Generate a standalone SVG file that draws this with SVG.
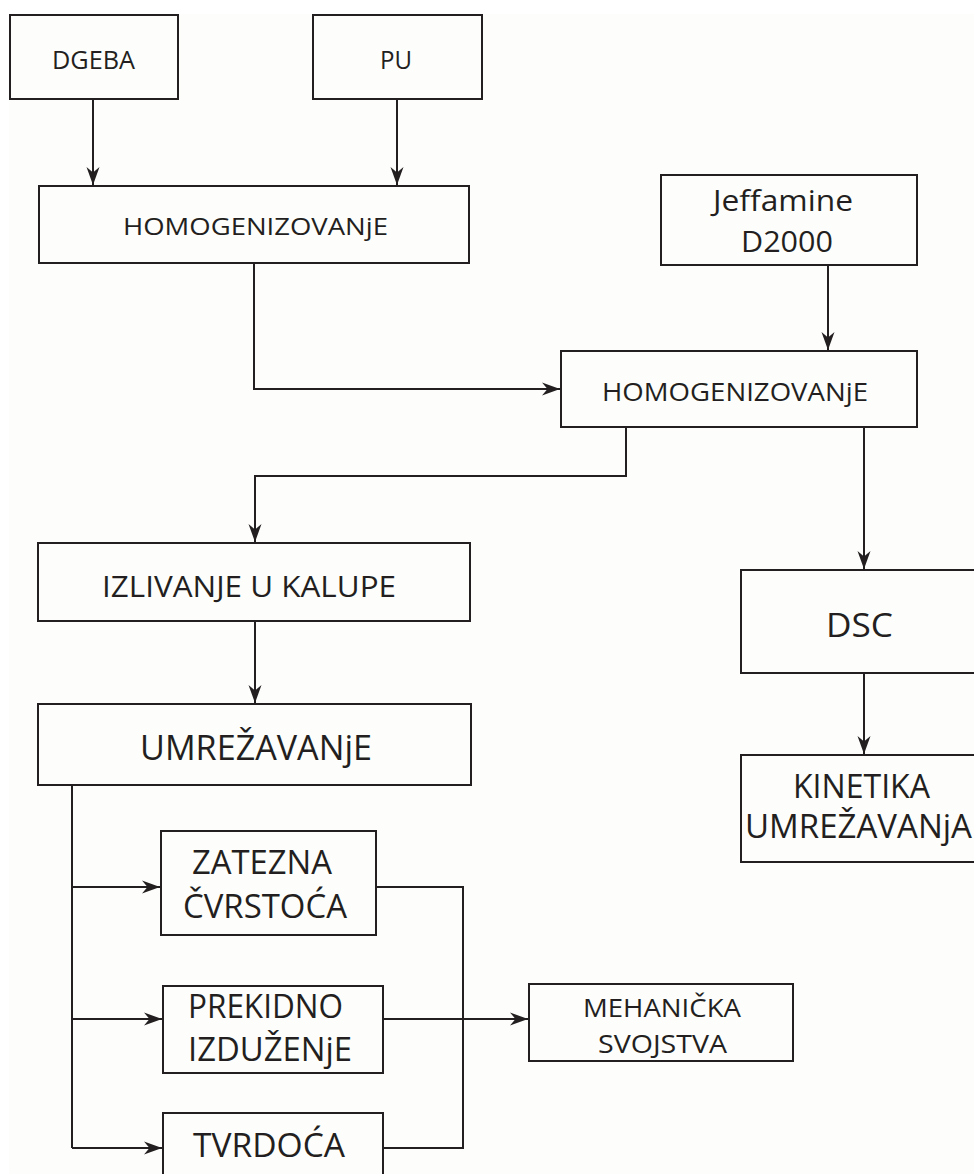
<svg xmlns="http://www.w3.org/2000/svg" width="974" height="1174" viewBox="0 0 974 1174">
<defs>
<style>
.box{fill:none;stroke:#231f20;stroke-width:2}
.ln{fill:none;stroke:#231f20;stroke-width:2}
.arr{marker-end:url(#ah)}
text{font-family:"Open Sans","Noto Sans","Liberation Sans",sans-serif;fill:#231f20}
</style>
<marker id="ah" markerUnits="userSpaceOnUse" viewBox="-18 -7 19 14" refX="0" refY="0" markerWidth="19" markerHeight="14" orient="auto">
<path d="M0,0 L-18,-6.5 L-12.5,0 L-18,6.5 Z" fill="#231f20"/>
</marker>
</defs>
<rect x="0" y="0" width="974" height="1174" fill="#fdfdfb"/>
<rect x="0" y="0" width="974" height="14" fill="#ffffff"/>
<rect x="0" y="0" width="9" height="1174" fill="#ffffff"/>

<g id="connectors">
<path class="ln arr" d="M93,99 V185"/>
<path class="ln arr" d="M397,99 V185"/>
<path class="ln arr" d="M254,263 V389 H560"/>
<path class="ln arr" d="M828,265 V350"/>
<path class="ln arr" d="M626,427 V476 H255 V542"/>
<path class="ln arr" d="M864,427 V569"/>
<path class="ln arr" d="M255,621 V703"/>
<path class="ln arr" d="M864,673 V754"/>
<path class="ln" d="M72,785 V1148"/>
<path class="ln arr" d="M72,887 H160"/>
<path class="ln arr" d="M72,1019 H162"/>
<path class="ln arr" d="M72,1148 H162"/>
<path class="ln" d="M376,887 H463 V1148 H383"/>
<path class="ln arr" d="M383,1019 H528"/>
</g>

<g id="dgeba"><rect class="box" x="10" y="15" width="168" height="84"/>
<text x="52" y="69" font-size="26" textLength="83" lengthAdjust="spacingAndGlyphs">DGEBA</text></g>
<g id="pu"><rect class="box" x="313" y="15" width="169" height="84"/>
<text x="380" y="69" font-size="26" textLength="32" lengthAdjust="spacingAndGlyphs">PU</text></g>
<g id="homog1"><rect class="box" x="39" y="186" width="430" height="77"/>
<text x="123" y="235" font-size="24" textLength="265" lengthAdjust="spacingAndGlyphs">HOMOGENIZOVANjE</text></g>
<g id="jeffamine"><rect class="box" x="661" y="175" width="256" height="90"/>
<text x="713" y="211" font-size="30" textLength="140" lengthAdjust="spacingAndGlyphs">Jeffamine</text>
<text x="741" y="252" font-size="30" textLength="92" lengthAdjust="spacingAndGlyphs">D2000</text></g>
<g id="homog2"><rect class="box" x="561" y="351" width="356" height="76"/>
<text x="602" y="401" font-size="25" textLength="266" lengthAdjust="spacingAndGlyphs">HOMOGENIZOVANjE</text></g>
<g id="izlivanje"><rect class="box" x="38" y="543" width="432" height="78"/>
<text x="102" y="597" font-size="30" textLength="294" lengthAdjust="spacingAndGlyphs">IZLIVANJE U KALUPE</text></g>
<g id="umrezavanje"><rect class="box" x="38" y="704" width="433" height="81"/>
<text x="140" y="760" font-size="35" textLength="232" lengthAdjust="spacingAndGlyphs">UMREŽAVANjE</text></g>
<g id="dsc"><rect class="box" x="741" y="570" width="260" height="103"/>
<text x="826" y="637" font-size="32" textLength="67" lengthAdjust="spacingAndGlyphs">DSC</text></g>
<g id="kinetika"><rect class="box" x="741" y="755" width="260" height="107"/>
<text x="793" y="798" font-size="32" textLength="137" lengthAdjust="spacingAndGlyphs">KINETIKA</text>
<text x="745" y="838" font-size="32" textLength="227" lengthAdjust="spacingAndGlyphs">UMREŽAVANjA</text></g>
<g id="zatezna"><rect class="box" x="161" y="831" width="215" height="104"/>
<text x="192" y="874" font-size="32" textLength="140" lengthAdjust="spacingAndGlyphs">ZATEZNA</text>
<text x="183" y="918" font-size="32" textLength="164" lengthAdjust="spacingAndGlyphs">ČVRSTOĆA</text></g>
<g id="prekidno"><rect class="box" x="163" y="986" width="220" height="87"/>
<text x="188" y="1018" font-size="32" textLength="155" lengthAdjust="spacingAndGlyphs">PREKIDNO</text>
<text x="188" y="1061" font-size="32" textLength="164" lengthAdjust="spacingAndGlyphs">IZDUŽENjE</text></g>
<g id="tvrdoca"><rect class="box" x="163" y="1113" width="220" height="80"/>
<text x="193" y="1157" font-size="32" textLength="152" lengthAdjust="spacingAndGlyphs">TVRDOĆA</text></g>
<g id="mehanicka"><rect class="box" x="529" y="984" width="264" height="77"/>
<text x="583" y="1017" font-size="25" textLength="158" lengthAdjust="spacingAndGlyphs">MEHANIČKA</text>
<text x="598" y="1053" font-size="25" textLength="129" lengthAdjust="spacingAndGlyphs">SVOJSTVA</text></g>
</svg>
